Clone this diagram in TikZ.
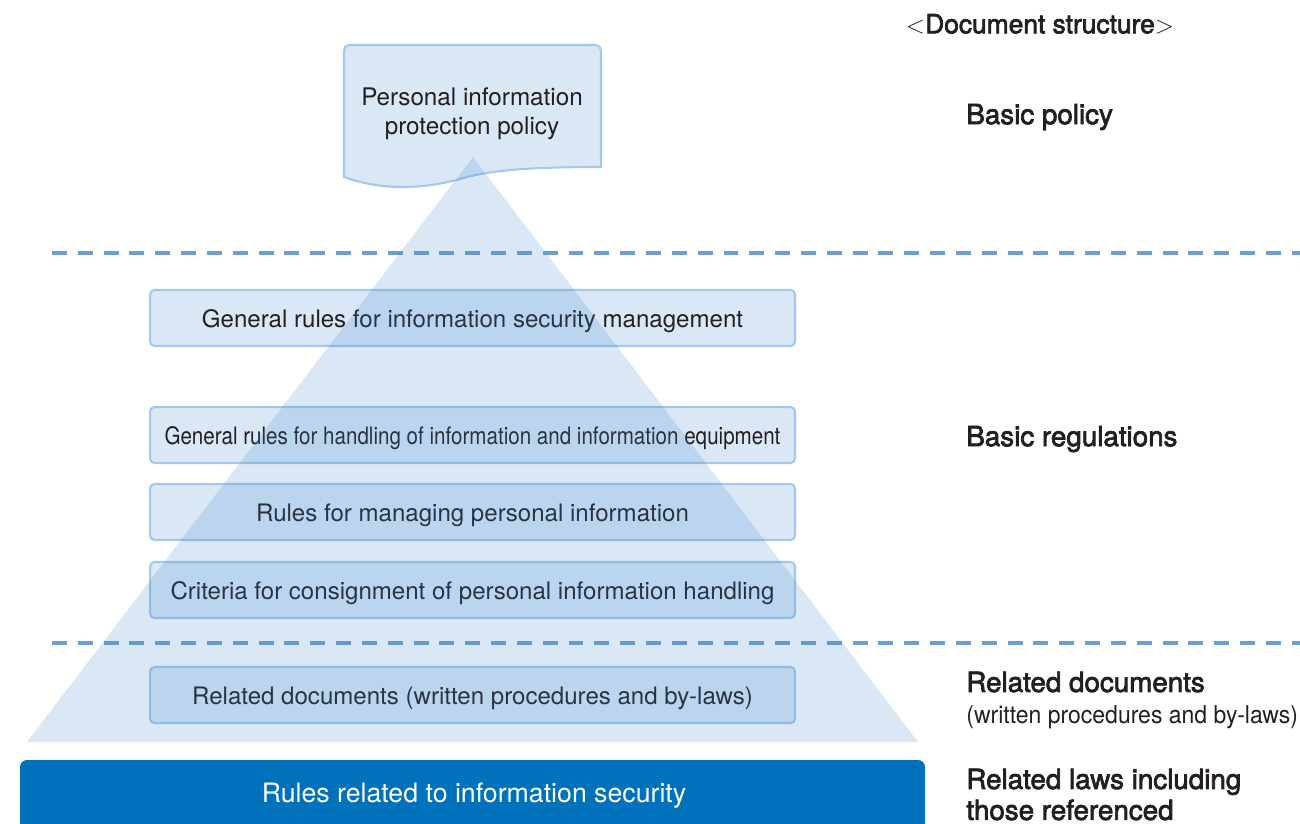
\documentclass[tikz,border=0pt]{standalone}
\usepackage{fontspec}
\setmainfont{TeX Gyre Heros}
\newfontfamily\mediumfont[FakeBold=2.5]{TeX Gyre Heros}
\usetikzlibrary{positioning}

\definecolor{boxfill}{RGB}{218,232,246}
\definecolor{boxline}{RGB}{166,200,234}
\definecolor{pyramid}{RGB}{68,137,206}
\definecolor{barblue}{RGB}{0,114,188}
\definecolor{dashblue}{RGB}{106,159,214}
\definecolor{ink}{RGB}{35,31,32}

\tikzset{
  rulebox/.style={draw=boxline, fill=boxfill, line width=1.2pt, rounded corners=2.5pt,
    minimum width=12.9cm, minimum height=1.12cm, text=ink, text height=1.05em, text depth=0pt,
    font=\fontsize{13.7}{16}\selectfont},
  sidelabel/.style={anchor=west, text=ink, align=left, inner sep=0pt,
    font=\mediumfont\fontsize{15.8}{17.6}\selectfont},
  levelline/.style={dashblue, line width=2.2pt, dash pattern=on 8.5pt off 6.2pt}
}

\begin{document}
\begin{tikzpicture}[x=.02cm, y=-.02cm]
\useasboundingbox (0,0) rectangle (1300,823);
\clip (0,0) rectangle (1300,823);

% level separators
\draw[levelline] (52,253) -- (1300,253);
\draw[levelline] (52,643) -- (1300,643);

% basic policy document
\draw[draw=boxline, fill=boxfill, line width=1.2pt] (344,177) [rounded corners=3pt] -- (344,45) -- (601,45) [sharp corners] -- (601,167)
  .. controls (530,167) and (490,170) .. (460,179) .. controls (420,190) and (380,190) .. (344,177) -- cycle;
\node[text=ink, align=center, font=\fontsize{13.8}{16.4}\selectfont] (policy) at (472,114) {Personal information\\protection policy};

% regulations
\node[rulebox] (secmgmt) at (472.5,318) {General rules for information security management};
\node[rulebox] (handling) at (472.5,435) {\scalebox{.855}[1]{General rules for handling of information and information equipment}};
\node[rulebox] (personal) at (472.5,512) {Rules for managing personal information};
\node[rulebox] (consign) at (472.5,590) {Criteria for consignment of personal information handling};
\node[rulebox] (related) at (472.5,695) {Related documents (written procedures and by-laws)};

% pyramid
\fill[pyramid, fill opacity=.2] (473,157) -- (918,742) -- (27,742) -- cycle;

% base
\fill[barblue, rounded corners=4pt] (20,760) rectangle (925,860);
\node[text=white, font=\fontsize{15.2}{18}\selectfont] (infosec) at (474,796) {Rules related to information security};

% structure labels
\node[text=ink, font=\mediumfont\fontsize{15}{18}\selectfont] (structure) at (1040,24) {$<$Document structure$>$};
\node[sidelabel] (lpolicy) at (966,117) {Basic policy};
\node[sidelabel] (lregs) at (966,439) {Basic regulations};
\node[sidelabel] (ldocs) at (966,682) {Related documents};
\node[sidelabel, font=\fontsize{14}{16}\selectfont] (ldocsnote) at (966,717) {\scalebox{.935}[1]{(written procedures and by-laws)}};
\node[sidelabel] (llaws) at (966,794.5) {Related laws including\\those referenced};
\end{tikzpicture}
\end{document}
